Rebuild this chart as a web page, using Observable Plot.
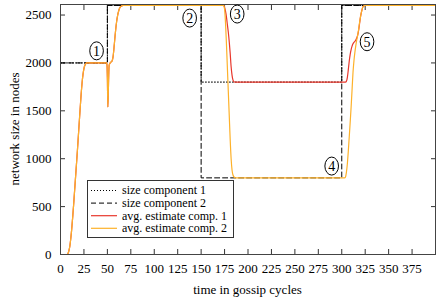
<!DOCTYPE html>
<html><head><meta charset="utf-8">
<script src="https://cdn.jsdelivr.net/npm/d3@7"></script>
<script src="https://cdn.jsdelivr.net/npm/@observablehq/plot@0.6"></script>
<style>
body{margin:0;background:#fff}
#chart{position:relative;width:436px;height:302px}
#chart svg, #chart svg text{font-family:"Liberation Serif",serif !important}
</style>
</head><body><div id="chart"></div>
<script>
// ---- data ----
const xTicks = [0,25,50,75,100,125,150,175,200,225,250,275,300,325,350,375];
const yTicks = [0,500,1000,1500,2000,2500];

const sizeTime  = [0,50,50,150,150,300,300,400];
const sizeComp1 = [2000,2000,2600,2600,1800,1800,2600,2600];
const sizeComp2 = [2000,2000,2600,2600,800,800,2600,2600];

// shared estimate before the split
const sharedTime = [0,7,8,9,10,11,12,13,14,15,16,17,18,19,20,21,22,23,24,25,26,27,28,49,49.5,50,50.5,51,51.5,52,53,55,56,57,58,59,60,61,62,63,65,67,172];
const sharedEst  = [0,0,10,40,90,170,270,390,520,660,800,940,1080,1230,1380,1530,1670,1790,1880,1940,1975,1992,2000,2000,1990,1850,1540,1700,1900,1980,2000,2020,2060,2150,2260,2360,2440,2500,2540,2570,2595,2600,2600];

const est1Time = [174,175,176,177,178,179,180,181,182,183,184,185,186,190,304,305,306,307,308,309,310,311,312,313,314,315,316,317,318,319,320,321,322,323,325,400];
const est1     = [2600,2580,2540,2480,2400,2320,2220,2100,1960,1870,1820,1803,1800,1800,1800,1810,1850,1930,2020,2090,2140,2175,2200,2215,2225,2240,2260,2290,2340,2410,2480,2530,2570,2590,2600,2600];

const est2Time = [174,175,176,177,178,179,180,181,182,183,184,185,186,188,303,304,305,306,307,308,309,310,311,312,313,314,315,316,317,318,319,320,321,322,323,325,400];
const est2     = [2600,2560,2420,2200,1950,1700,1450,1200,1000,880,830,810,803,800,800,810,860,950,1080,1230,1380,1540,1720,1900,2020,2110,2180,2240,2290,2350,2420,2480,2530,2570,2590,2600,2600];

const noteLabels = ["1","2","3","4","5"];
const noteTime   = [39,138.3,189,289.8,327.5];
const noteSize   = [2121,2463,2505,918,2216];

const legendLabels = ["size component 1","size component 2","avg. estimate comp. 1","avg. estimate comp. 2"];
const xLabel = "time in gossip cycles";
const yLabel = "network size in nodes";

// ---- styles ----
const RED = "#e8372c", ORANGE = "#fdb12a";
const styles = [
  {stroke:"#000", dash:"1,2", width:1},
  {stroke:"#000", dash:"5,3", width:1},
  {stroke:RED, dash:null, width:1.2},
  {stroke:ORANGE, dash:null, width:1.2}
];

const zip = (xs, ys) => xs.map((x,i) => ({x, y: ys[i]}));
const est1Data = zip(sharedTime, sharedEst).concat(zip(est1Time, est1));
const est2Data = zip(sharedTime, sharedEst).concat(zip(est2Time, est2));
const fmt = d => String(d);
const SERIF = '"Liberation Serif", serif';

const plot = Plot.plot({
  width: 436, height: 302,
  marginLeft: 60, marginRight: 1, marginTop: 4, marginBottom: 48,
  style: {fontFamily: SERIF, fontSize: "13px", background: "#fff", color: "#000", overflow: "visible"},
  x: {domain: [0,400], label: null},
  y: {domain: [0,2610], label: null},
  marks: [
    Plot.axisX({anchor:"bottom", ticks:xTicks, tickSize:-5, tickFormat:fmt, label:null, fontSize:13, stroke:"#333"}),
    Plot.axisX({anchor:"top", ticks:xTicks, tickSize:-5, tickFormat:()=>"", label:null, stroke:"#333"}),
    Plot.axisY({anchor:"left", ticks:yTicks, tickSize:-5, tickFormat:fmt, label:null, fontSize:13, stroke:"#333"}),
    Plot.axisY({anchor:"right", ticks:yTicks, tickSize:-5, tickFormat:()=>"", label:null, stroke:"#333"}),
    Plot.line(zip(sizeTime, sizeComp1), {x:"x", y:"y", stroke:styles[0].stroke, strokeDasharray:styles[0].dash, strokeWidth:1}),
    Plot.line(zip(sizeTime, sizeComp2), {x:"x", y:"y", stroke:styles[1].stroke, strokeDasharray:styles[1].dash, strokeWidth:1}),
    Plot.line(est1Data, {x:"x", y:"y", stroke:RED, strokeWidth:1.2, curve:"monotone-x"}),
    Plot.line(est2Data, {x:"x", y:"y", stroke:ORANGE, strokeWidth:1.2, curve:"monotone-x"}),
    Plot.frame({stroke:"#444"})
  ]
});
plot.style.fontFamily = SERIF;
document.getElementById("chart").appendChild(plot);

const svg = d3.select(plot);
const sx = plot.scale("x"), sy = plot.scale("y");

// annotations (circled numbers)
const g = svg.append("g").attr("font-family", SERIF);
noteLabels.forEach((lab,i) => {
  const cx = sx.apply(noteTime[i]), cy = sy.apply(noteSize[i]);
  g.append("ellipse").attr("cx",cx).attr("cy",cy).attr("rx",6.8).attr("ry",9)
    .attr("fill","#fff").attr("stroke","#000").attr("stroke-width",1);
  g.append("text").attr("x",cx).attr("y",cy).attr("dy","0.35em").attr("text-anchor","middle")
    .attr("font-size",14).text(lab);
});

// legend
const lg = svg.append("g").attr("font-family", SERIF).attr("font-size",12).attr("text-anchor","start");
lg.append("rect").attr("x",87.5).attr("y",180.5).attr("width",146).attr("height",57)
  .attr("fill","#fff").attr("stroke","#333").attr("stroke-width",1);
legendLabels.forEach((lab,i) => {
  const y = 190.5 + i*12.6;
  const s = styles[i];
  lg.append("line").attr("x1",91).attr("x2",117).attr("y1",y).attr("y2",y)
    .attr("stroke",s.stroke).attr("stroke-width",s.width).attr("stroke-dasharray",s.dash);
  lg.append("text").attr("x",122).attr("y",y).attr("dy","0.33em").attr("text-anchor","start").text(lab);
});

// axis titles
svg.append("text").attr("x",247.5).attr("y",294).attr("text-anchor","middle")
  .attr("font-family", SERIF).attr("font-size",13).text(xLabel);
svg.append("text").attr("transform","translate(19,129) rotate(-90)").attr("text-anchor","middle")
  .attr("font-family", SERIF).attr("font-size",13).text(yLabel);
</script>
</body></html>
